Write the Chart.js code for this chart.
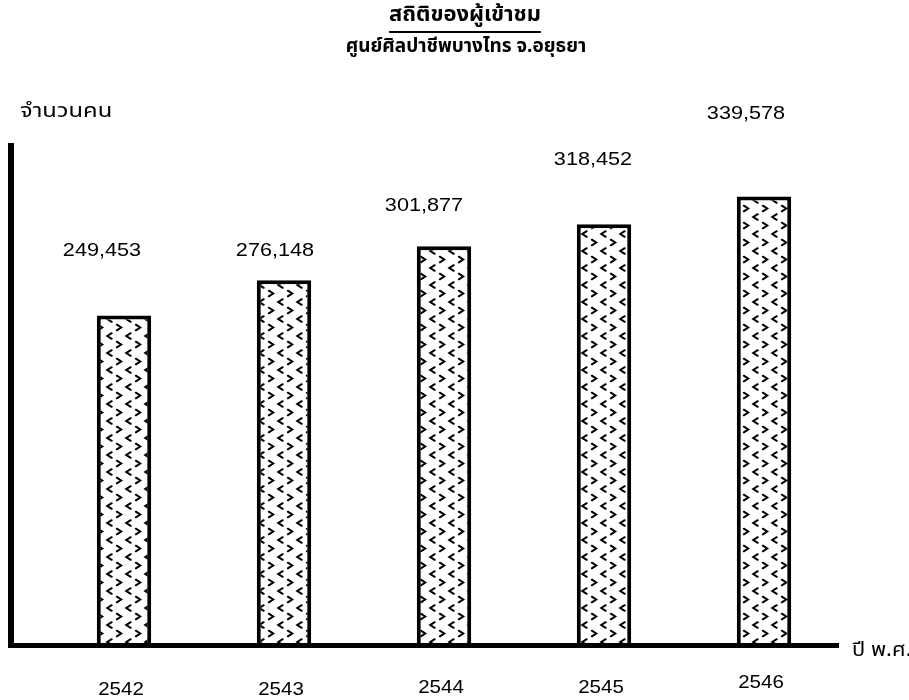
<!DOCTYPE html>
<html>
<head>
<meta charset="utf-8">
<script src="https://cdn.jsdelivr.net/npm/chart.js@4"></script>
<style>
html,body{margin:0;padding:0;background:#fff;}
#wrap{position:relative;width:909px;height:700px;}
canvas{display:block;}
</style>
</head>
<body>
<div id="wrap"><canvas id="c" width="909" height="700"></canvas></div>
<script>
// ---- data ----
const years = ['2542', '2543', '2544', '2545', '2546'];
const visitors = [249453, 276148, 301877, 318452, 339578];
const valueLabels = ['249,453', '276,148', '301,877', '318,452', '339,578'];
const titleText = 'สถิติของผู้เข้าชม';
const subtitleText = 'ศูนย์ศิลปาชีพบางไทร จ.อยุธยา';
const yAxisTitle = 'จำนวนคน';
const xAxisTitle = 'ปี พ.ศ.';

// ---- layout (text placement) ----
const labelDx = [-22, -9, -20, -11, -18];
const labelDy = [108, 108, 63, 17, -29];
const thaiFont = '"Noto Sans Thai", "Loma", "Garuda", "Norasi", "Kinnari", "DejaVu Sans", "Liberation Sans", sans-serif';
const numFont = '"Liberation Sans", Arial, sans-serif';

function makePattern() {
  const p = document.createElement('canvas');
  p.width = 19; p.height = 17;
  const g = p.getContext('2d');
  g.fillStyle = '#fff';
  g.fillRect(0, 0, 19, 17);
  g.strokeStyle = '#000';
  g.lineWidth = 2;
  g.lineCap = 'round';
  function chev(x, y, dir) {
    g.beginPath();
    g.moveTo(x - 2.2 * dir, y - 2.8);
    g.lineTo(x + 2.2 * dir, y);
    g.lineTo(x - 2.2 * dir, y + 2.8);
    g.stroke();
  }
  chev(5, 4.5, 1);
  chev(14.5, 13, -1);
  return g.createPattern(p, 'repeat');
}

function stretchedText(c, text, x, y, sx, align) {
  c.save();
  c.translate(x, y);
  c.scale(sx, 1);
  c.textAlign = align;
  c.fillText(text, 0, 0);
  c.restore();
}

const ctx = document.getElementById('c').getContext('2d');
const pattern = makePattern();

const decor = {
  id: 'decor',
  afterDatasetsDraw(chart) {
    const c = chart.ctx;
    const a = chart.chartArea;
    c.save();
    // axes
    c.fillStyle = '#000';
    c.fillRect(8, a.top, 6, a.bottom - a.top + 3);
    c.fillRect(8, a.bottom - 2, 831, 5);
    // value labels
    const meta = chart.getDatasetMeta(0);
    c.font = '19px ' + numFont;
    c.textBaseline = 'middle';
    meta.data.forEach((bar, i) => {
      stretchedText(c, valueLabels[i], bar.x + labelDx[i], a.top + labelDy[i], 1.14, 'center');
    });
    // x tick labels
    const xLabelY = [690, 690, 688, 688, 683];
    meta.data.forEach((bar, i) => {
      stretchedText(c, years[i], bar.x - 3, xLabelY[i], 1.08, 'center');
    });
    // titles
    c.font = 'bold 22px ' + thaiFont;
    c.textAlign = 'center';
    c.fillText(titleText, 465, 17);
    const tw = c.measureText(titleText).width;
    c.fillRect(465 - tw / 2, 31, tw, 2);
    c.font = 'bold 19px ' + thaiFont;
    c.fillText(subtitleText, 466, 48);
    c.font = '19px ' + thaiFont;
    stretchedText(c, yAxisTitle, 20, 113, 1.25, 'left');
    stretchedText(c, xAxisTitle, 852, 652, 1.15, 'left');
    c.restore();
  }
};

new Chart(ctx, {
  type: 'bar',
  data: {
    labels: years,
    datasets: [{
      data: visitors,
      backgroundColor: pattern,
      borderColor: '#000',
      borderWidth: 4,
      borderSkipped: 'bottom',
      barPercentage: 0.34,
      categoryPercentage: 1.0
    }]
  },
  options: {
    responsive: false,
    animation: false,
    layout: { padding: { left: 44, right: 65, top: 143, bottom: 55 } },
    plugins: { legend: { display: false }, tooltip: { enabled: false }, title: { display: false } },
    scales: {
      x: { display: false },
      y: { display: false, min: 0, max: 380000 }
    }
  },
  plugins: [decor]
});
</script>
</body>
</html>
